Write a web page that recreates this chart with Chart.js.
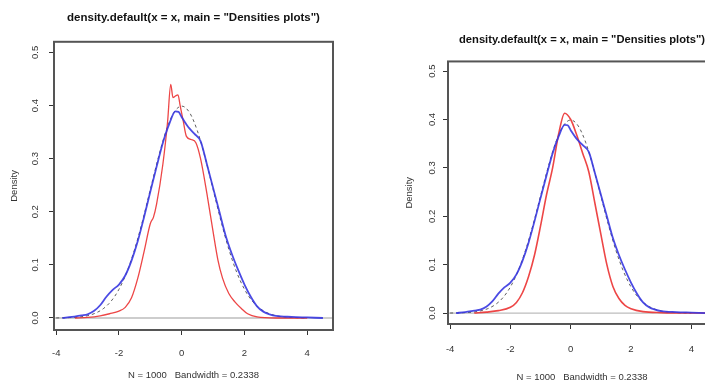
<!DOCTYPE html>
<html>
<head>
<meta charset="utf-8">
<script src="https://cdn.jsdelivr.net/npm/chart.js@4"></script>
<style>
  html, body { margin: 0; padding: 0; background: #fff; overflow: hidden; width: 705px; height: 387px; }
  canvas { position: absolute; top: 0; }
  #c1 { left: 0px; }
  #c2 { left: 395px; }
</style>
</head>
<body>
<canvas id="c1" width="352" height="387"></canvas>
<canvas id="c2" width="335" height="387"></canvas>
<script>
// ---- data ----
const titleText = 'density.default(x = x, main = "Densities plots")';
const xLabelText = 'N = 1000   Bandwidth = 0.2338';
const yLabelText = 'Density';
const xTicks = [-4, -2, 0, 2, 4];
const yTicks = [0, 0.1, 0.2, 0.3, 0.4, 0.5];

// blue kernel density (same in both panels)
const blueX = [-3.8, -3.5, -3.2, -3.0, -2.8, -2.6, -2.4, -2.2, -2.0, -1.8, -1.6, -1.4, -1.2, -1.0, -0.8, -0.6, -0.4, -0.2, -0.1, 0.0, 0.2, 0.4, 0.6, 0.8, 1.0, 1.2, 1.4, 1.6, 1.8, 2.0, 2.2, 2.4, 2.6, 2.8, 3.0, 3.5, 4.0, 4.5];
const blueY = [0.000, 0.002, 0.005, 0.007, 0.013, 0.024, 0.040, 0.053, 0.063, 0.080, 0.108, 0.145, 0.190, 0.238, 0.285, 0.330, 0.365, 0.389, 0.388, 0.378, 0.360, 0.347, 0.333, 0.290, 0.245, 0.200, 0.155, 0.120, 0.090, 0.063, 0.040, 0.022, 0.012, 0.007, 0.004, 0.002, 0.001, 0.000];

// red density, left panel
const redLX = [-3.4, -3.0, -2.6, -2.3, -2.0, -1.8, -1.6, -1.4, -1.2, -1.0, -0.9, -0.8, -0.6, -0.45, -0.35, -0.28, -0.2, -0.12, -0.05, 0.05, 0.15, 0.3, 0.45, 0.6, 0.8, 1.0, 1.15, 1.3, 1.5, 1.7, 1.9, 2.1, 2.4, 3.0, 4.0];
const redLY = [0.000, 0.001, 0.004, 0.008, 0.013, 0.020, 0.038, 0.075, 0.125, 0.178, 0.190, 0.215, 0.290, 0.370, 0.440, 0.415, 0.418, 0.420, 0.400, 0.370, 0.342, 0.336, 0.330, 0.300, 0.235, 0.162, 0.110, 0.075, 0.046, 0.030, 0.018, 0.008, 0.002, 0.000, 0.000];

// red density, right panel
const redRX = [-3.2, -2.8, -2.4, -2.0, -1.8, -1.6, -1.4, -1.2, -1.0, -0.8, -0.6, -0.4, -0.2, 0.0, 0.2, 0.4, 0.6, 0.8, 1.0, 1.2, 1.4, 1.6, 1.8, 2.0, 2.4, 3.0, 4.5];
const redRY = [0.000, 0.002, 0.005, 0.012, 0.022, 0.042, 0.075, 0.120, 0.180, 0.245, 0.300, 0.370, 0.413, 0.400, 0.368, 0.330, 0.292, 0.228, 0.163, 0.100, 0.055, 0.030, 0.016, 0.009, 0.003, 0.001, 0.000];

// dashed reference curve
const normX = [-4, -3.75, -3.5, -3.25, -3, -2.75, -2.5, -2.25, -2, -1.75, -1.5, -1.25, -1, -0.75, -0.5, -0.25, 0, 0.25, 0.5, 0.75, 1, 1.25, 1.5, 1.75, 2, 2.25, 2.5, 2.75, 3, 3.25, 3.5, 3.75, 4];
const normY = [0.0001, 0.0004, 0.0009, 0.002, 0.0044, 0.0091, 0.0175, 0.0317, 0.054, 0.0863, 0.1295, 0.1826, 0.242, 0.3011, 0.3521, 0.3867, 0.3989, 0.3867, 0.3521, 0.3011, 0.242, 0.1826, 0.1295, 0.0863, 0.054, 0.0317, 0.0175, 0.0091, 0.0044, 0.002, 0.0009, 0.0004, 0.0001];

const pts = (xs, ys) => xs.map((x, i) => ({ x: x, y: ys[i] }));
const FONT = '"Liberation Sans", Arial, Helvetica, sans-serif';

const boxPlugin = {
  id: 'rbox',
  beforeDatasetsDraw(chart) {
    const { ctx, chartArea: a, scales } = chart;
    const y0 = scales.y.getPixelForValue(0);
    ctx.save();
    ctx.strokeStyle = '#bdbdbd';
    ctx.lineWidth = 1.3;
    ctx.beginPath();
    ctx.moveTo(a.left, y0);
    ctx.lineTo(a.right, y0);
    ctx.stroke();
    ctx.restore();
  },
  afterDraw(chart) {
    const { ctx, chartArea: a } = chart;
    ctx.save();
    ctx.strokeStyle = '#555';
    ctx.lineWidth = 2;
    ctx.strokeRect(a.left, a.top, a.right - a.left, a.bottom - a.top);
    ctx.restore();
  }
};

function makeChart(id, redX, redY, cfg) {
  const ds = (label, data, color, width, dash) => ({
    label, data, borderColor: color, borderWidth: width, borderDash: dash || [],
    pointRadius: 0, fill: false, cubicInterpolationMode: 'monotone'
  });
  const axisFont = { family: FONT, size: 9.5 };
  return new Chart(document.getElementById(id), {
    type: 'line',
    data: {
      datasets: [
        ds('blue', pts(blueX, blueY), 'rgba(55,55,225,0.9)', 1.8),
        ds('red', pts(redX, redY), 'rgba(235,50,50,0.9)', cfg.redW),
        ds('dnorm', pts(normX, normY), 'rgba(40,40,40,0.75)', 1, [3, 3])
      ]
    },
    plugins: [boxPlugin],
    options: {
      responsive: false,
      animation: false,
      devicePixelRatio: 1,
      layout: { padding: { left: 0, right: cfg.padRight, top: 0, bottom: 0 } },
      plugins: {
        legend: { display: false },
        tooltip: { enabled: false },
        title: {
          display: true, text: titleText, color: '#111', fullSize: false,
          font: { family: FONT, size: cfg.titleSize, weight: 'bold', lineHeight: 1.2 },
          padding: { top: cfg.titleTop, bottom: cfg.titleBottom }
        }
      },
      scales: {
        x: {
          type: 'linear', min: -4.07, max: 4.82,
          afterFit: s => { s.height = cfg.xH; },
          afterBuildTicks: s => { s.ticks = xTicks.map(v => ({ value: v })); },
          grid: { display: true, drawOnChartArea: false, drawTicks: true, tickLength: 5, color: '#333', lineWidth: 1 },
          border: { display: false },
          ticks: { color: '#333', padding: cfg.xTickPad, maxRotation: 0, font: axisFont,
                   callback: v => String(v) },
          title: { display: true, text: xLabelText, color: '#333', font: axisFont,
                   padding: { top: 0, bottom: cfg.xTitleBottom } }
        },
        y: {
          type: 'linear', min: -0.0226, max: 0.52,
          afterFit: s => { s.width = cfg.yW; },
          afterBuildTicks: s => { s.ticks = yTicks.map(v => ({ value: v })); },
          grid: { display: true, drawOnChartArea: false, drawTicks: true, tickLength: 5, color: '#333', lineWidth: 1 },
          border: { display: false },
          ticks: { color: '#333', padding: cfg.yTickPad, minRotation: 90, maxRotation: 90, crossAlign: 'center',
                   font: axisFont, callback: v => v.toFixed(1) },
          title: { display: true, text: yLabelText, color: '#333', font: axisFont,
                   padding: { top: 9, bottom: 0 } }
        }
      }
    }
  });
}

makeChart('c1', redLX, redLY, {
  redW: 1.3, padRight: 19, titleSize: 11.5, titleTop: 11, titleBottom: 17,
  xH: 57, xTickPad: 13, xTitleBottom: 6, yW: 54, yTickPad: 7
});
makeChart('c2', redRX, redRY, {
  redW: 1.6, padRight: 14, titleSize: 11.2, titleTop: 33, titleBottom: 15,
  xH: 63, xTickPad: 15, xTitleBottom: 4, yW: 53, yTickPad: 4
});
</script>
</body>
</html>
